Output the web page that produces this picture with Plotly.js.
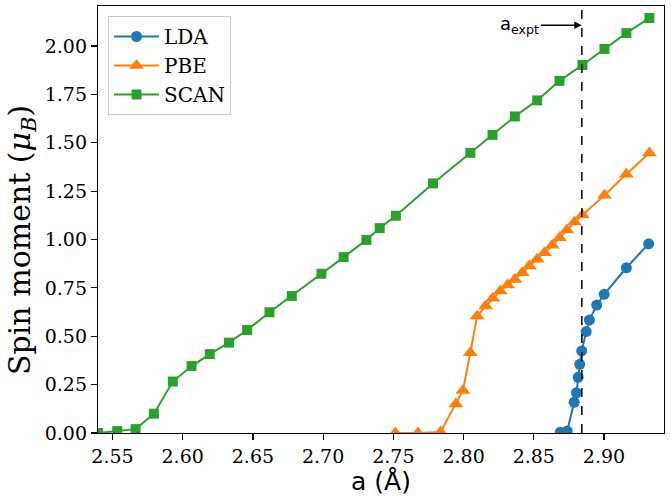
<!DOCTYPE html>
<html>
<head>
<meta charset="utf-8">
<script src="https://cdn.plot.ly/plotly-3.0.1.min.js"></script>
<style>html,body{margin:0;padding:0;background:#fff;}#chart{width:671px;height:496px;}</style>
</head>
<body>
<div id="chart"></div>
<script>
// Lattice constant a (Å) and spin moment (μB)
const ldaA = [2.8688, 2.8738, 2.8787, 2.8804, 2.8816, 2.8827, 2.8841, 2.8873, 2.8896, 2.8948, 2.9001, 2.9159, 2.9318];
const ldaM = [0.004, 0.01, 0.159, 0.208, 0.288, 0.355, 0.424, 0.524, 0.584, 0.661, 0.717, 0.854, 0.978];

const pbeA = [2.7514, 2.7675, 2.7836, 2.7945, 2.7995, 2.8048, 2.8097, 2.8157, 2.8208, 2.8261, 2.8313, 2.8365, 2.8418, 2.8469, 2.8524, 2.8576, 2.8631, 2.8683, 2.8735, 2.879, 2.8846, 2.9003, 2.9159, 2.9323];
const pbeM = [0.0, 0.0, 0.005, 0.15, 0.22, 0.415, 0.605, 0.656, 0.696, 0.734, 0.765, 0.794, 0.828, 0.863, 0.898, 0.932, 0.970, 1.009, 1.049, 1.09, 1.127, 1.229, 1.338, 1.447];

const scanA = [2.5397, 2.5534, 2.5665, 2.5795, 2.593, 2.6063, 2.6193, 2.6329, 2.6459, 2.6618, 2.6777, 2.6988, 2.7146, 2.7308, 2.7403, 2.7518, 2.7782, 2.8048, 2.8206, 2.8365, 2.8524, 2.8683, 2.8846, 2.9003, 2.9159, 2.9323];
const scanM = [0.0, 0.01, 0.02, 0.10, 0.266, 0.346, 0.408, 0.467, 0.532, 0.624, 0.708, 0.823, 0.909, 0.998, 1.059, 1.123, 1.290, 1.448, 1.541, 1.636, 1.719, 1.820, 1.902, 1.985, 2.067, 2.145];

const aExpt = 2.8842;
const xTicks = [2.55, 2.60, 2.65, 2.70, 2.75, 2.80, 2.85, 2.90];
const yTicks = [0, 0.25, 0.5, 0.75, 1.0, 1.25, 1.5, 1.75, 2.0];

const serif = "DejaVu Serif";
const sans = "DejaVu Sans";

const traces = [
  {x: ldaA, y: ldaM, name: "LDA", mode: "lines+markers",
   line: {color: "#1f77b4", width: 2}, marker: {symbol: "circle", size: 11, color: "#1f77b4"}},
  {x: pbeA, y: pbeM, name: "PBE", mode: "lines+markers",
   line: {color: "#ff7f0e", width: 2}, marker: {symbol: "triangle-up", size: 13, color: "#ff7f0e"}},
  {x: scanA, y: scanM, name: "SCAN", mode: "lines+markers",
   line: {color: "#2ca02c", width: 2}, marker: {symbol: "square", size: 10, color: "#2ca02c"}}
];

const axisCommon = {
  showgrid: false, zeroline: false, showline: true, mirror: true,
  linecolor: "#000", linewidth: 1.2, ticks: "outside", ticklen: 6, tickwidth: 1.2,
  tickcolor: "#000", tickfont: {family: serif, size: 19, color: "#000"}
};

const layout = {
  width: 671, height: 496,
  margin: {l: 98, r: 7, t: 6, b: 63},
  paper_bgcolor: "#fff", plot_bgcolor: "#fff",
  showlegend: true,
  legend: {x: 0.0177, y: 0.9766, xanchor: "left", yanchor: "top",
           bgcolor: "rgba(255,255,255,0.8)", bordercolor: "#cccccc", borderwidth: 1,
           itemwidth: 45,
           font: {family: serif, size: 20, color: "#000"}, tracegroupgap: 0},
  xaxis: Object.assign({}, axisCommon, {
    range: [2.5397, 2.9427], tickvals: xTicks, tickformat: ".2f",
    title: {text: "a (Å)", font: {family: sans, size: 25, color: "#000"}, standoff: 10}
  }),
  yaxis: Object.assign({}, axisCommon, {
    range: [0, 2.207], tickvals: yTicks, tickformat: ".2f"
  }),
  shapes: [{type: "line", xref: "x", yref: "paper", x0: aExpt, x1: aExpt, y0: 0, y1: 1,
            line: {color: "#000", width: 1.5, dash: "dash"}}],
  annotations: [
    {xref: "x", yref: "paper", x: aExpt, y: 0.955,
     text: "a<sub>expt</sub>", showarrow: true, arrowhead: 2, arrowsize: 1, arrowwidth: 1.5,
     arrowcolor: "#000", ax: -62, ay: 0, standoff: 0,
     font: {family: sans, size: 18, color: "#000"}},
    {xref: "paper", yref: "paper", x: 0, y: 0.452, xshift: -76, xanchor: "center", yanchor: "middle",
     textangle: -90, showarrow: false,
     text: "Spin moment (<i>μ</i><sub><i>B</i></sub>)",
     font: {family: serif, size: 30, color: "#000"}}
  ]
};

Plotly.newPlot("chart", traces, layout, {staticPlot: true, displayModeBar: false});
</script>
</body>
</html>
